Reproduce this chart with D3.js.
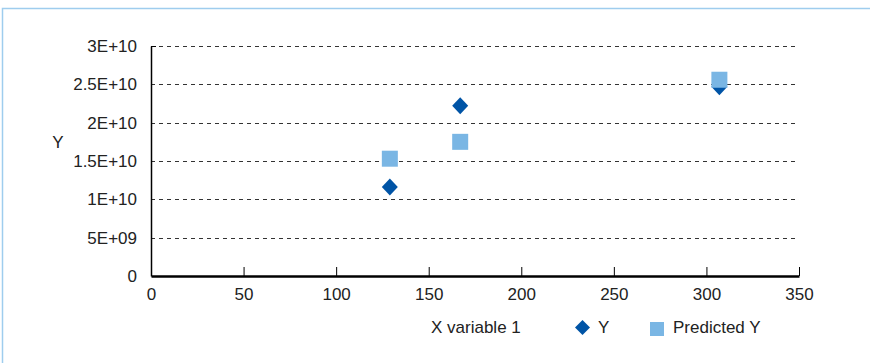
<!DOCTYPE html>
<html><head><meta charset="utf-8">
<script src="https://cdn.jsdelivr.net/npm/d3@7"></script>
<style>body{margin:0;background:#fff}svg{display:block}text{font-family:"Liberation Sans",Arial,sans-serif;fill:#222}</style>
</head><body>
<svg id="c" width="870" height="363"></svg>
<script>
const xValues = [129, 167, 307];
const yActual = [1.16e10, 2.22e10, 2.47e10];
const yPredicted = [1.53e10, 1.75e10, 2.56e10];
const xTicks = [0, 50, 100, 150, 200, 250, 300, 350];
const yTicks = [0, 5e9, 1e10, 1.5e10, 2e10, 2.5e10, 3e10];
const yTickLabels = ["0", "5E+09", "1E+10", "1.5E+10", "2E+10", "2.5E+10", "3E+10"];
const legendLabels = ["X variable 1", "Y", "Predicted Y"];

const svg = d3.select("#c");
svg.append("rect").attr("x", 2.5).attr("y", 8.5).attr("width", 900).attr("height", 400)
  .attr("fill", "none").attr("stroke", "#9fcdee").attr("stroke-width", 1.5);

const x = d3.scaleLinear().domain([0, 350]).range([151, 799]);
const y = d3.scaleLinear().domain([0, 3e10]).range([276, 46]);

// gridlines
svg.append("g").selectAll("line").data(yTicks.filter(d => d > 0)).join("line")
  .attr("x1", x(0)).attr("x2", x(350)).attr("y1", d => Math.round(y(d)) + 0.5).attr("y2", d => Math.round(y(d)) + 0.5)
  .attr("stroke", "#333").attr("stroke-width", 1).attr("stroke-dasharray", "4,4");

// y axis
const ya = d3.axisLeft(y).tickValues(yTicks).tickSize(0).tickPadding(14)
  .tickFormat((d, i) => yTickLabels[i]);
const gy = svg.append("g").attr("transform", `translate(${x(0)},0)`).call(ya);
gy.select(".domain").attr("stroke", "#000").attr("stroke-width", 1.5);
gy.selectAll("text").style("font-size", "17px").attr("fill", "#222");
gy.append("line").attr("x1", 0).attr("x2", 5).attr("y1", y(3e10)+0.5).attr("y2", y(3e10)+0.5).attr("stroke", "#000");

// x axis
const xa = d3.axisBottom(x).tickValues(xTicks).tickSize(0).tickPadding(12);
const gx = svg.append("g").attr("transform", `translate(0,${y(0)})`).call(xa);
gx.select(".domain").attr("stroke", "#000").attr("stroke-width", 2.5);
gx.selectAll("text").style("font-size", "17px").attr("fill", "#222");
gx.selectAll(".tick").append("line").attr("y1", 0).attr("y2", -9).attr("stroke", "#000").attr("stroke-width", 1);

// y label
svg.append("text").attr("x", 58).attr("y", 148).attr("text-anchor", "middle").style("font-size", "17px").text("Y");

const diamondPath = (w, h) => `M0,${-h/2}L${w/2},0L0,${h/2}L${-w/2},0Z`;
// actual diamonds
svg.append("g").selectAll("path").data(xValues).join("path")
  .attr("d", diamondPath(16, 17)).attr("transform", (d, i) => `translate(${x(d)},${y(yActual[i])})`)
  .attr("fill", "#0054a6");
// predicted squares
svg.append("g").selectAll("rect").data(xValues).join("rect")
  .attr("x", (d) => x(d) - 8).attr("y", (d, i) => y(yPredicted[i]) - 8)
  .attr("width", 16).attr("height", 16).attr("fill", "#7ab6e4");

// legend
const lg = svg.append("g");
lg.append("text").attr("x", 431).attr("y", 333).style("font-size", "17px").text(legendLabels[0]);
lg.append("path").attr("d", diamondPath(15, 15)).attr("transform", "translate(582.5,327.5)").attr("fill", "#0054a6");
lg.append("text").attr("x", 598).attr("y", 333).style("font-size", "17px").text(legendLabels[1]);
lg.append("rect").attr("x", 650).attr("y", 322).attr("width", 14).attr("height", 14).attr("fill", "#7ab6e4");
lg.append("text").attr("x", 673).attr("y", 333).style("font-size", "17px").text(legendLabels[2]);
</script>
</body></html>
